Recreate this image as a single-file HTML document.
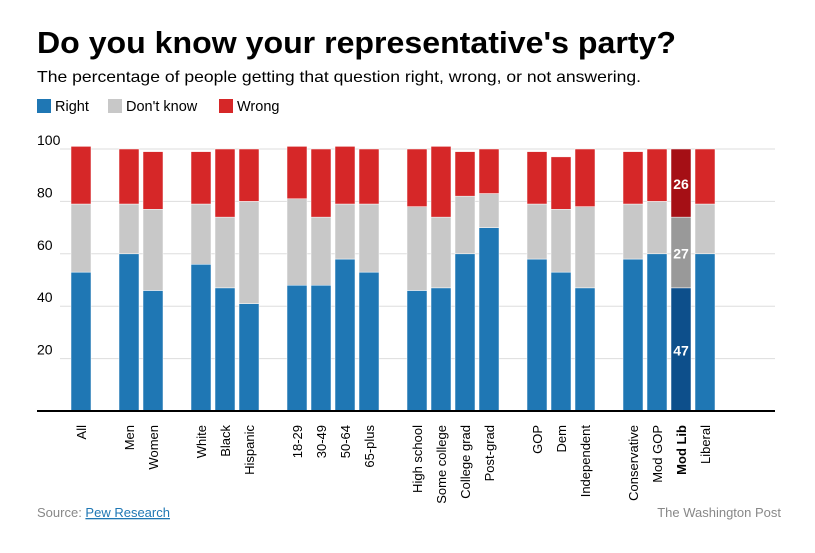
<!DOCTYPE html>
<html><head><meta charset="utf-8"><style>
body{margin:0;background:#fff;font-family:"Liberation Sans",Arial,sans-serif;}
#wrap{position:relative;width:815px;height:553px;overflow:hidden;}
</style></head><body>
<div id="wrap">
<svg id="chart" width="815" height="553">
<text x="37" y="53" font-size="31" font-weight="bold" fill="#000" textLength="639" lengthAdjust="spacingAndGlyphs">Do you know your representative's party?</text>
<text x="37" y="82" font-size="16" fill="#000" textLength="604" lengthAdjust="spacingAndGlyphs">The percentage of people getting that question right, wrong, or not answering.</text>
<g>
<rect x="37" y="99" width="14" height="14" fill="#1f77b4"/>
<text x="55" y="111" font-size="14.5">Right</text>
<rect x="108" y="99" width="14" height="14" fill="#c8c8c8"/>
<text x="126" y="111" font-size="14.5">Don't know</text>
<rect x="219" y="99" width="14" height="14" fill="#d62728"/>
<text x="237" y="111" font-size="14.5">Wrong</text>
</g>
<g id="grid"></g><g id="bars"></g><g id="xlabels"></g>
<line x1="37" y1="411" x2="775" y2="411" stroke="#000" stroke-width="2"/>
<text x="37" y="517" font-size="13" fill="#888">Source: <tspan fill="#1f77b4" text-decoration="underline">Pew Research</tspan></text>
<text x="781" y="517" font-size="13" fill="#888" text-anchor="end">The Washington Post</text>
</svg>
</div>
<script>
const categories=["All","Men","Women","White","Black","Hispanic","18-29","30-49","50-64","65-plus","High school","Some college","College grad","Post-grad","GOP","Dem","Independent","Conservative","Mod GOP","Mod Lib","Liberal"];
const groups=[0,1,1,2,2,2,3,3,3,3,4,4,4,4,5,5,5,6,6,6,6];
const rightVals=[53,60,46,56,47,41,48,48,58,53,46,47,60,70,58,53,47,58,60,47,60];
const dontKnowVals=[26,19,31,23,27,39,33,26,21,26,32,27,22,13,21,24,31,21,20,27,19];
const wrongVals=[22,21,22,20,26,20,20,26,22,21,22,27,17,17,20,20,22,20,20,26,21];
const yTicks=[20,40,60,80,100];
const highlight="Mod Lib";
const NS="http://www.w3.org/2000/svg";
const y0=411,yPer=2.62;
function yScale(v){return y0-v*yPer;}
function xScale(i){return 71+i*24+groups[i]*24;}
const bw=20;
function mk(tag,attrs,parent){const e=document.createElementNS(NS,tag);for(const k in attrs)e.setAttribute(k,attrs[k]);parent.appendChild(e);return e;}
const grid=document.getElementById('grid');
yTicks.forEach(t=>{
 const l=mk('line',{x1:60,x2:775,y1:yScale(t),y2:yScale(t),stroke:'#ddd','stroke-width':1},grid);
 
 
 const tx=mk('text',{x:37,y:yScale(t)-4,'font-size':14,fill:'#000'},grid);
 tx.textContent=t;
 
 
});
const bars=document.getElementById('bars'),xl=document.getElementById('xlabels');
categories.forEach((c,i)=>{
 const x=xScale(i),hl=c===highlight;
 const segs=[[rightVals[i],hl?'#0d4f8b':'#1f77b4','right'],[dontKnowVals[i],hl?'#999':'#c8c8c8','dont-know'],[wrongVals[i],hl?'#a50f15':'#d62728','wrong']];
 let base=0;
 const slug=c.toLowerCase().replace(/[^a-z0-9]+/g,'-');
 segs.forEach(s=>{
  const r=mk('rect',{x:x,y:yScale(base+s[0]),width:bw,height:s[0]*yPer,fill:s[1],stroke:'#fff','stroke-width':0.5},bars);
  
  
  if(hl){
   const t=mk('text',{x:x+bw/2,y:yScale(base+s[0]/2)+6,'font-size':14,'font-weight':'bold',fill:'#fff','text-anchor':'middle'},bars);
   t.textContent=s[0];
   
   
  }
  base+=s[0];
 });
 const lx=x+bw/2+5;
 const t=mk('text',{x:lx,y:425,'font-size':13,'text-anchor':'end',transform:`rotate(-90 ${lx} 425)`,'font-weight':hl?'bold':'normal'},xl);
 t.textContent=c;
 
 
});
</script>
</body></html>
